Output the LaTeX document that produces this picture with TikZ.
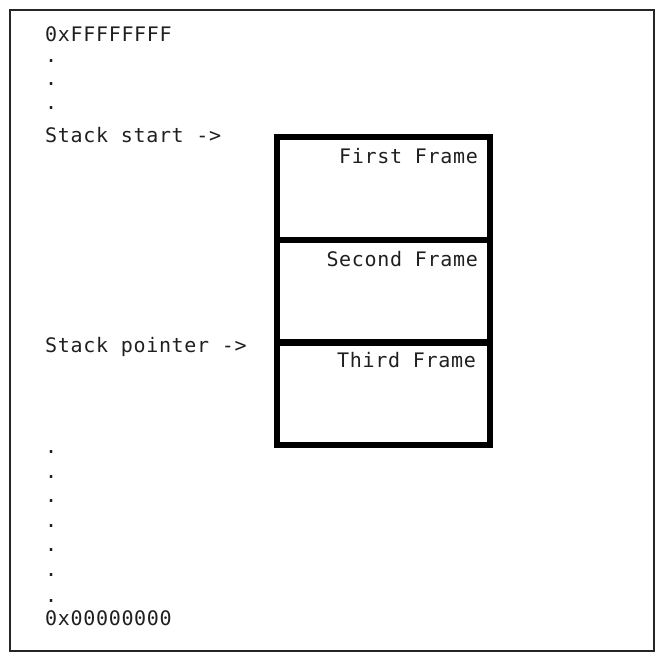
\documentclass[tikz,border=0pt]{standalone}
\usepackage{fontspec}
\newfontfamily\monofont[LetterSpace=3.4]{DejaVu Sans Mono}
\begin{document}
\begin{tikzpicture}[x=1pt,y=-1pt,
  txt/.style={inner sep=0pt,anchor=base west,font=\monofont\fontsize{20}{20}\selectfont,text=black!88,text depth=2pt},
  dotmark/.style={txt,text height=3pt,text depth=0pt},
  lbl/.style={inner sep=0pt,anchor=base east,font=\monofont\fontsize{20}{20}\selectfont,text=black!88},
  framebox/.style={draw=black,line width=6pt,minimum width=213pt,minimum height=102.67pt,inner sep=0pt},
]
\useasboundingbox (0,0) rectangle (664,662);
\node[draw=black!85,line width=2pt,minimum width=644pt,minimum height=641pt,inner sep=0pt] (outer) at (332,330.5) {};
% frames
\node[framebox] (f1) at (383.5,188.5) {};
\node[framebox] (f2) at (383.5,291.2) {};
\node[framebox] (f3) at (383.5,393.8) {};
\node[lbl] (l1) at (478,163) {First Frame};
\node[lbl] (l2) at (478,266) {Second Frame};
\node[lbl] (l3) at (476,367) {Third Frame};
% addresses
\node[txt] (top) at (45,41) {0xFFFFFFFF};
\node[dotmark] (d1) at (45,62) {.};
\node[dotmark] (d2) at (45,85) {.};
\node[dotmark] (d3) at (45,109) {.};
\node[txt] (start) at (45,142) {Stack start ->};
\node[txt] (sp) at (45,352) {Stack pointer ->};
\node[dotmark] (e1) at (45,453) {.};
\node[dotmark] (e2) at (45,478) {.};
\node[dotmark] (e3) at (45,502) {.};
\node[dotmark] (e4) at (45,527) {.};
\node[dotmark] (e5) at (45,551) {.};
\node[dotmark] (e6) at (45,576) {.};
\node[dotmark] (e7) at (45,602) {.};
\node[txt] (bottom) at (45,625) {0x00000000};
\end{tikzpicture}
\end{document}
